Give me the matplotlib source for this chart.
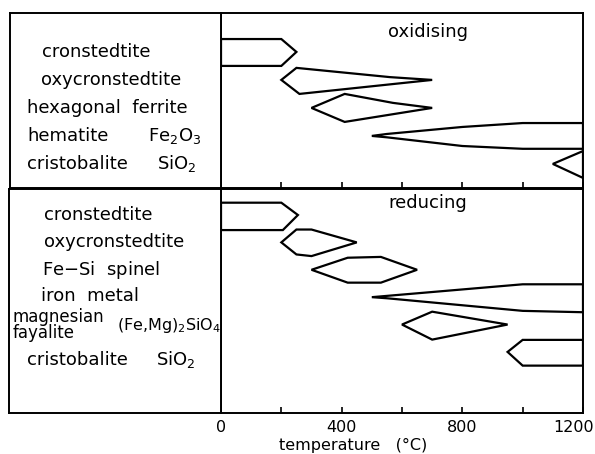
import matplotlib.pyplot as plt

# phase names and formulas, oxidising run
ox_names = ['cronstedtite', 'oxycronstedtite', 'hexagonal  ferrite', 'hematite', 'cristobalite']
ox_formulas = ['', '', '', r'Fe$_2$O$_3$', r'SiO$_2$']
# stability profiles: (temperature in C, half width) for upper and lower edge
ox_upper = [
    [(0, .46), (200, .46), (250, 0)],
    [(200, 0), (250, .43), (560, .1), (700, 0)],
    [(300, 0), (410, .5), (570, .18), (700, 0)],
    [(500, 0), (550, .07), (800, .32), (1000, .46), (1200, .46)],
    [(1100, 0), (1200, .46)],
]
ox_lower = [
    [(0, .5), (200, .5), (250, 0)],
    [(200, 0), (260, .5), (700, 0)],
    [(300, 0), (410, .5), (700, 0)],
    [(500, 0), (550, .05), (800, .36), (1000, .46), (1200, .46)],
    [(1100, 0), (1200, .5)],
]

# reducing run
red_names = ['cronstedtite', 'oxycronstedtite', 'Fe$-$Si  spinel', 'iron  metal',
             'magnesian\nfayalite', 'cristobalite']
red_formulas = ['', '', '', '', r'(Fe,Mg)$_2$SiO$_4$', r'SiO$_2$']
red_upper = [
    [(0, .45), (200, .45), (255, 0)],
    [(200, 0), (250, .47), (300, .47), (450, 0)],
    [(300, 0), (420, .44), (530, .47), (650, 0)],
    [(500, 0), (1000, .47), (1200, .47)],
    [(600, 0), (700, .47), (950, 0)],
    [(950, 0), (1000, .44), (1200, .44)],
]
red_lower = [
    [(0, .55), (205, .55), (255, 0)],
    [(200, 0), (250, .44), (300, .5), (450, 0)],
    [(300, 0), (420, .47), (530, .47), (650, 0)],
    [(500, 0), (550, .04), (1000, .5), (1200, .55)],
    [(600, 0), (700, .55), (950, 0)],
    [(950, 0), (1000, .5), (1200, .5)],
]

tick_values = [0, 200, 400, 600, 800, 1000, 1200]
label_values = [0, 400, 800, 1200]

FS = 13
W, H = 595, 454


def px_axes(fig, x0, y0, x1, y1):
    return fig.add_axes([x0 / W, 1 - y1 / H, (x1 - x0) / W, (y1 - y0) / H])


def draw_phase(ax, row, upper, lower):
    ut = [p[0] for p in upper]
    lt = [p[0] for p in lower]
    xs = ut + lt[::-1]
    ys = [row - p[1] for p in upper] + [row + p[1] for p in lower[::-1]]
    ax.fill(xs, ys, facecolor='white', edgecolor='black', lw=1.6, joinstyle='miter')


def setup_panel(ax, ylim, title, title_y):
    ax.set_xlim(0, 1200)
    ax.set_ylim(*ylim)
    ax.set_yticks([])
    ax.set_xticks(tick_values)
    ax.set_xticklabels([])
    ax.tick_params(axis='x', direction='in', length=4, width=1.2)
    for s in ax.spines.values():
        s.set_linewidth(1.4)
    ax.text(686, title_y, title, fontsize=FS, ha='center', va='center')


fig = plt.figure(figsize=(W / 100, H / 100), dpi=100)

# top panel (oxidising), rows spaced evenly
ax_top = px_axes(fig, 221, 13, 583, 188)
ylim_top = (4.86, -1.39)
setup_panel(ax_top, ylim_top, 'oxidising', -0.7)
for i in range(len(ox_names)):
    draw_phase(ax_top, i, ox_upper[i], ox_lower[i])

ax_bot = px_axes(fig, 221, 189, 583, 413)
ylim_bot = (7.23, -0.95)
setup_panel(ax_bot, ylim_bot, 'reducing', -0.45)
for i in range(len(red_names)):
    draw_phase(ax_bot, i, red_upper[i], red_lower[i])

# tick labels under the lower panel
xt = ax_bot.get_xaxis_transform()
for v in label_values:
    if v == label_values[-1]:
        ax_bot.text(v + 36, -0.063, str(v), transform=xt, fontsize=11.5,
                    ha='right', va='center', clip_on=False)
    else:
        ax_bot.text(v, -0.063, str(v), transform=xt, fontsize=11.5,
                    ha='center', va='center', clip_on=False)

# label boxes on the left
lab_top = px_axes(fig, 10, 13, 221, 188)
lab_top.set_xlim(0, 211)
lab_top.set_ylim(*ylim_top)
name_x = [32, 31, 17, 17, 17]
for i, name in enumerate(ox_names):
    lab_top.text(name_x[i], i, name, fontsize=FS, va='center')
    if ox_formulas[i]:
        lab_top.text(138 if i == 3 else 147, i, ox_formulas[i], fontsize=FS, va='center')

lab_bot = px_axes(fig, 9, 189, 221, 413)
lab_bot.set_xlim(0, 212)
lab_bot.set_ylim(*ylim_bot)
name_x = [35, 35, 33, 32, 4, 18]
name_dy = [0, 0, 0, -0.05, 0, 0.28]
for i, name in enumerate(red_names):
    if '\n' in name:
        lab_bot.text(name_x[i], i, name, fontsize=12, va='center', linespacing=0.85)
    else:
        lab_bot.text(name_x[i], i + name_dy[i], name, fontsize=FS, va='center')
lab_bot.text(108, 4.05, red_formulas[4], fontsize=11.5, va='center')
lab_bot.text(147, 5.28, red_formulas[5], fontsize=FS, va='center')

for a in (lab_top, lab_bot):
    a.set_xticks([])
    a.set_yticks([])
    for s in a.spines.values():
        s.set_linewidth(1.4)

fig.text(353 / W, 1 - 450 / H, 'temperature   (\u00b0C)', fontsize=11.5,
         ha='center', va='baseline')

fig.savefig('out.png', dpi=100)
